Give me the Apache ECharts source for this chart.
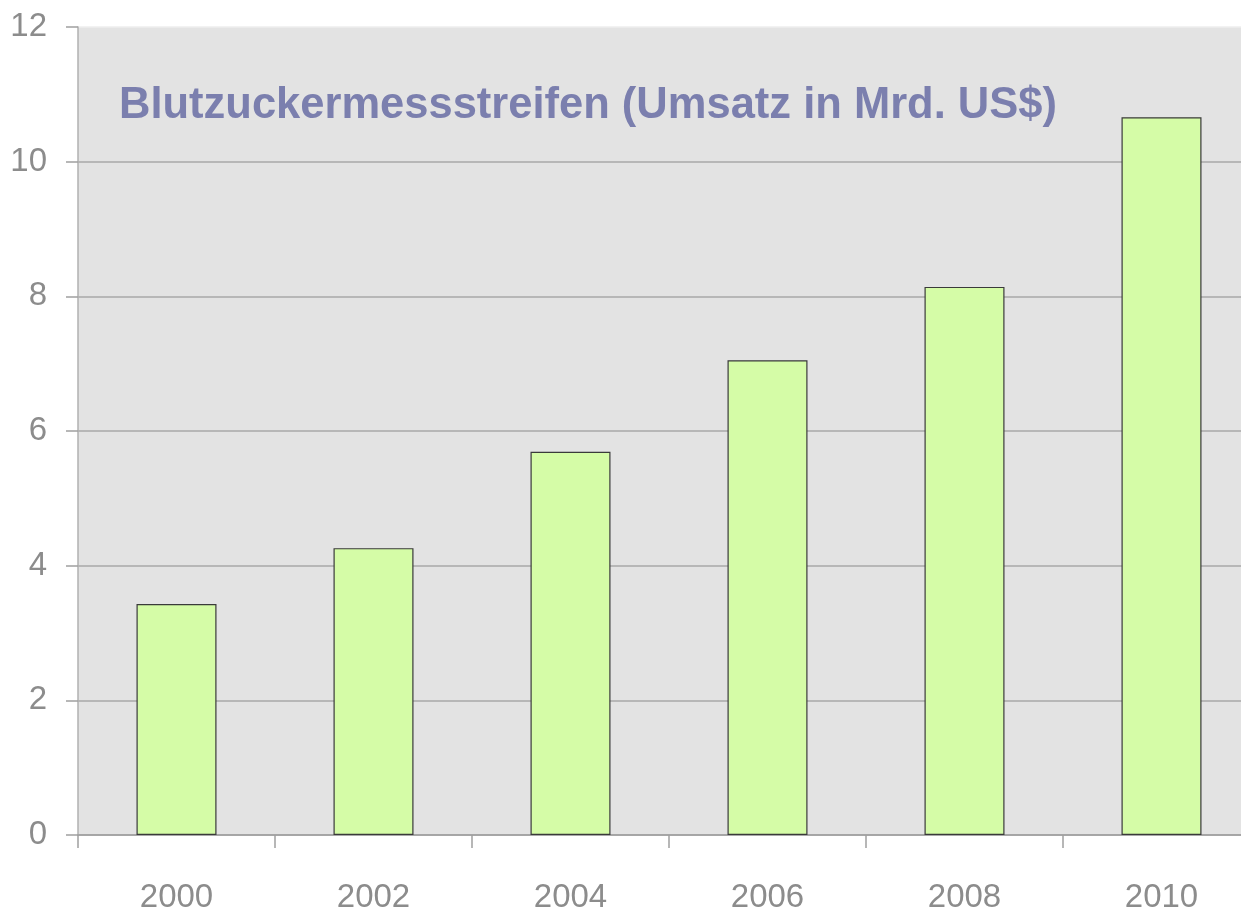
<!DOCTYPE html>
<html>
<head>
<meta charset="utf-8">
<script src="https://cdn.jsdelivr.net/npm/echarts@6/dist/echarts.min.js"></script>
<style>
  html, body { margin: 0; padding: 0; background: #fff; }
  #chart { width: 1241px; height: 913px; }
</style>
</head>
<body>
<div id="chart"></div>
<script>
var jahre = ['2000', '2002', '2004', '2006', '2008', '2010'];
var umsatz = [3.43, 4.26, 5.69, 7.05, 8.14, 10.66];
var titel = 'Blutzuckermessstreifen (Umsatz in Mrd. US$)';

var myChart = echarts.init(document.getElementById('chart'));
var option = {
    animation: false,
    title: {
        text: titel,
        left: 114,
        top: 79,
        textStyle: {
            color: '#7b7fae',
            fontFamily: 'Liberation Sans',
            fontWeight: 'bold',
            fontSize: 43.5
        }
    },
    grid: {
        left: 78,
        top: 27,
        width: 1182,
        height: 808,
        outerBoundsMode: 'none',
        containLabel: false,
        show: true,
        backgroundColor: '#e3e3e3',
        borderWidth: 0
    },
    xAxis: {
        type: 'category',
        data: jahre,
        axisLine: { lineStyle: { color: '#a0a0a0', width: 1.5 } },
        axisTick: { show: true, length: 13, lineStyle: { color: '#a0a0a0', width: 1.5 } },
        axisLabel: {
            margin: 46,
            color: '#8c8c8c',
            fontFamily: 'Liberation Sans',
            fontSize: 33
        }
    },
    yAxis: {
        type: 'value',
        min: 0,
        max: 12,
        interval: 2,
        axisLine: { show: true, lineStyle: { color: '#b0b0b0', width: 1.5 } },
        axisTick: { show: true, length: 12, lineStyle: { color: '#a0a0a0', width: 1.5 } },
        axisLabel: {
            margin: 31,
            color: '#8c8c8c',
            fontFamily: 'Liberation Sans',
            fontSize: 33
        },
        splitLine: {
            lineStyle: {
                color: ['#a8a8a8', '#a8a8a8', '#a8a8a8', '#a8a8a8', '#a8a8a8', '#a8a8a8', '#eeeeee'],
                width: 1.5
            }
        }
    },
    series: [{
        type: 'bar',
        data: umsatz,
        barWidth: 80,
        itemStyle: {
            color: '#d5fca7',
            borderColor: '#3a3a3a',
            borderWidth: 1.2
        }
    }]
};
myChart.setOption(option, true);
</script>
</body>
</html>
